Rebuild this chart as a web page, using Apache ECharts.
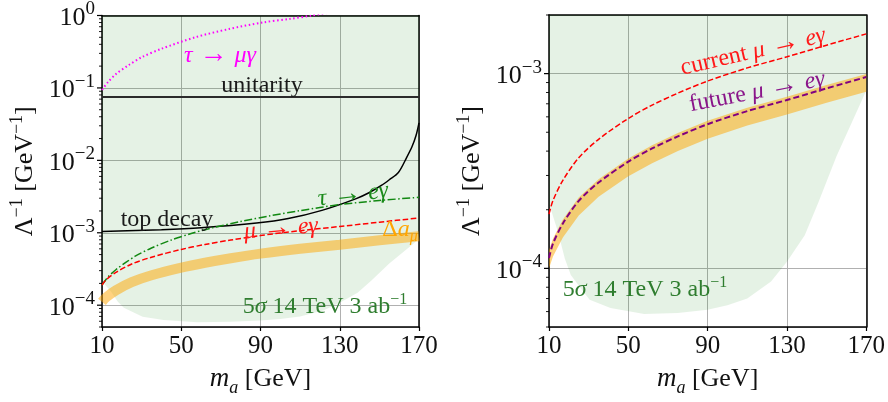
<!DOCTYPE html>
<html><head><meta charset="utf-8">
<script src="https://cdn.jsdelivr.net/npm/echarts@6/dist/echarts.min.js"></script>
<style>html,body{margin:0;padding:0;background:#fff}#c{width:888px;height:402px}</style>
</head><body><div id="c"></div>
<script>
// ---------------- data ----------------
const xTicks = [10, 50, 90, 130, 170];
const leftYRange = [5e-5, 1];
const rightYRange = [5e-5, 2e-3];

// 5 sigma 14 TeV 3 ab^-1 reach: lower boundary of shaded region
const reachM = [10, 11, 14.5, 18, 21, 26, 30.5, 41, 58, 75, 90, 100, 110, 122, 130, 139, 146, 155, 167, 170];
const reachV = [2.1e-4, 2.0e-4, 1.54e-4, 1.12e-4, 9.25e-5, 7.9e-5, 6.9e-5, 6.26e-5, 5.83e-5, 5.9e-5, 6.14e-5, 6.46e-5, 7.0e-5, 8.55e-5, 1.08e-4, 1.48e-4, 2.2e-4, 3.77e-4, 7.0e-4, 8.2e-4];

// mu -> e gamma (current / future) and Delta a_mu band
const muM = [10, 12, 17, 25, 35, 50, 62, 75, 90, 110, 130, 150, 170];
const muEgCurrent = [1.9e-4, 2.23e-4, 2.83e-4, 3.7e-4, 4.6e-4, 5.89e-4, 6.89e-4, 7.94e-4, 9.16e-4, 1.07e-3, 1.22e-3, 1.4e-3, 1.6e-3];
const muEgFuture = [1.13e-4, 1.34e-4, 1.7e-4, 2.22e-4, 2.76e-4, 3.53e-4, 4.13e-4, 4.76e-4, 5.5e-4, 6.42e-4, 7.32e-4, 8.4e-4, 9.6e-4];
const amuUpper = [1.24e-4, 1.42e-4, 1.78e-4, 2.31e-4, 2.87e-4, 3.67e-4, 4.29e-4, 4.95e-4, 5.72e-4, 6.68e-4, 7.61e-4, 8.74e-4, 9.95e-4];
const amuLower = [1.0e-4, 1.15e-4, 1.44e-4, 1.87e-4, 2.33e-4, 2.97e-4, 3.47e-4, 4.01e-4, 4.63e-4, 5.41e-4, 6.16e-4, 7.08e-4, 8.07e-4];

// top decay
const topM = [10, 40, 60, 88, 104, 121, 138, 145, 151, 155, 159.6, 163.8, 166.5, 168.5, 170];
const topV = [1.04e-3, 1.1e-3, 1.17e-3, 1.36e-3, 1.57e-3, 2.04e-3, 2.94e-3, 3.6e-3, 4.5e-3, 5.4e-3, 6.8e-3, 1.1e-2, 1.55e-2, 2.2e-2, 3.3e-2];

// tau -> e gamma
const tauEM = [10, 13, 17, 22, 27, 35, 45, 55, 65, 80, 95, 110, 130, 150, 170];
const tauEV = [1.9e-4, 2.45e-4, 3.09e-4, 3.89e-4, 4.79e-4, 6.17e-4, 7.94e-4, 9.77e-4, 1.16e-3, 1.43e-3, 1.72e-3, 2.02e-3, 2.45e-3, 2.79e-3, 3.09e-3];

// tau -> mu gamma
const tauMM = [10, 13, 17, 23.4, 30, 40, 57, 74, 91, 105, 116, 125];
const tauMV = [0.094, 0.12, 0.155, 0.206, 0.265, 0.347, 0.5, 0.65, 0.8, 0.9, 1.0, 1.1];

// unitarity
const unitM = [10, 170];
const unitV = [0.075, 0.075];

// ---------------- chart ----------------
const F = '"Liberation Serif", "DejaVu Serif", serif';
const TXT = '#111';
const zip = (a, b) => a.map((v, i) => [v, b[i]]);

const tickRich = {
  b: { fontSize: 26, fontFamily: F, color: TXT, verticalAlign: 'bottom' },
  s: { fontSize: 19, fontFamily: F, color: TXT, verticalAlign: 'bottom', padding: [0, 0, 12, 0] }
};
function logLabel(v) {
  const l = Math.log10(v), e = Math.round(l);
  if (Math.abs(l - e) > 1e-6) return '';
  return '{b|10}{s|' + (e < 0 ? '\u2212' : '') + Math.abs(e) + '}';
}
const nameRich = {
  b: { fontSize: 26, fontFamily: F, color: TXT, verticalAlign: 'bottom' },
  s: { fontSize: 18, fontFamily: F, color: TXT, verticalAlign: 'bottom', padding: [0, 0, 12, 0] },
  i: { fontSize: 27, fontFamily: F, fontStyle: 'italic', color: TXT, verticalAlign: 'bottom', padding: [0, 0, 5, 0] },
  bb: { fontSize: 26, fontFamily: F, color: TXT, verticalAlign: 'bottom', padding: [0, 0, 5, 0] },
  sub: { fontSize: 18, fontFamily: F, fontStyle: 'italic', color: TXT, verticalAlign: 'bottom' }
};

function xAxis(gi) {
  return {
    type: 'value', gridIndex: gi, min: 10, max: 170, interval: 40,
    axisLine: { show: true, lineStyle: { color: '#000', width: 1.5 } },
    axisTick: { show: true, length: 4, inside: false, lineStyle: { color: '#000', width: 1.2 } },
    axisLabel: { margin: 7, fontSize: 25, fontFamily: F, color: TXT },
    splitLine: { show: true, lineStyle: { color: '#b0b0b0', width: 1 } },
    name: '{i|m}{sub|a}{bb| [GeV]}', nameLocation: 'middle', nameGap: 38,
    nameTextStyle: { rich: nameRich }
  };
}
function yAxis(gi, r) {
  return {
    type: 'log', logBase: 10, gridIndex: gi, min: r[0], max: r[1],
    axisLine: { show: true, lineStyle: { color: '#000', width: 1.5 } },
    axisTick: { show: false },
    minorTick: { show: false },
    axisLabel: { margin: 7, formatter: logLabel, rich: tickRich },
    splitLine: { show: true, lineStyle: { color: '#b0b0b0', width: 1 } },
    name: '{b|\u039B}{s|\u22121}{b| [GeV}{s|\u22121}{b|]}', nameLocation: 'middle', nameRotate: 90, nameGap: 64,
    nameTextStyle: { rich: nameRich }
  };
}
// frame-only axes (top / right spines)
function frameX(gi) {
  return { type: 'value', gridIndex: gi, position: 'top', min: 10, max: 170,
    axisLine: { show: true, onZero: false, lineStyle: { color: '#000', width: 1.5 } },
    axisTick: { show: false }, axisLabel: { show: false }, splitLine: { show: false } };
}
function frameY(gi, r) {
  return { type: 'log', gridIndex: gi, position: 'right', min: r[0], max: r[1],
    axisLine: { show: true, onZero: false, lineStyle: { color: '#000', width: 1.5 } },
    axisTick: { show: false }, axisLabel: { show: false }, splitLine: { show: false } };
}

function tickSeries(xi, r) {
  const data = [];
  for (let e = -6; e <= 1; e++) for (let k = 1; k <= 9; k++) {
    const v = k * Math.pow(10, e);
    if (v >= r[0] * 0.999 && v <= r[1] * 1.001) data.push([xTicks[0], v, k === 1 ? 1 : 0]);
  }
  return {
    type: 'custom', xAxisIndex: xi, yAxisIndex: xi, clip: false, silent: true, z: 20, data,
    renderItem: (p, api) => {
      const pt = api.coord([api.value(0), api.value(1)]);
      const major = api.value(2) === 1;
      const len = major ? 5 : 3;
      return { type: 'line', shape: { x1: pt[0] - len, y1: pt[1], x2: pt[0], y2: pt[1] },
        style: { stroke: '#000', lineWidth: major ? 1.2 : 0.9 } };
    }
  };
}
function reachSeries(xi) {
  return {
    type: 'custom', xAxisIndex: xi, yAxisIndex: xi, clip: true, silent: true, z: 1,
    data: [[xTicks[0], 1e-3]],
    renderItem: (p, api) => {
      const pts = reachM.map((m, i) => api.coord([m, reachV[i]]));
      pts.push(api.coord([reachM[reachM.length - 1], 10]));
      pts.push(api.coord([reachM[0], 10]));
      return { type: 'polygon', shape: { points: pts }, style: { fill: 'rgba(0,128,0,0.1)' } };
    }
  };
}
function lineSeries(xi, m, v, color, width, dash, z) {
  return {
    type: 'line', xAxisIndex: xi, yAxisIndex: xi, data: zip(m, v), showSymbol: false, symbol: 'none',
    smooth: 0.3, clip: true, silent: true, z: z || 5,
    lineStyle: { color, width, type: dash || 'solid' }
  };
}

const series = [
  reachSeries(0),
  lineSeries(0, muM, muM.map((m, i) => Math.sqrt(amuUpper[i] * amuLower[i])), 'rgba(255,165,0,0.5)', 10, 'solid', 2),
  lineSeries(0, topM, topV, '#000', 1.5),
  lineSeries(0, unitM, unitV, '#2b2b2b', 2),
  lineSeries(0, tauMM, tauMV, '#ff00ff', 2, [1.5, 2.6]),
  lineSeries(0, tauEM, tauEV, '#118811', 1.5, [8, 2.5, 1.5, 2.5]),
  lineSeries(0, muM, muEgCurrent, '#ff0000', 1.5, [5.5, 2.5]),
  tickSeries(0, leftYRange),
  reachSeries(1),
  {
    type: 'custom', xAxisIndex: 1, yAxisIndex: 1, clip: true, silent: true, z: 2,
    data: [[xTicks[0], 1e-3]],
    renderItem: (p, api) => {
      const up = muM.map((m, i) => api.coord([m, amuUpper[i]]));
      const lo = muM.map((m, i) => api.coord([m, amuLower[i]])).reverse();
      return { type: 'polygon', shape: { points: up.concat(lo) }, style: { fill: 'rgba(255,165,0,0.5)' } };
    }
  },
  lineSeries(1, muM, muEgCurrent, '#ff0000', 1.5, [5.5, 2.5]),
  lineSeries(1, muM, muEgFuture, '#800080', 2, [6, 3]),
  tickSeries(1, rightYRange)
];

function txt(x, y, parts, color, rot, size) {
  const sz = size || 24;
  const rich = {
    r: { fontSize: sz, fontFamily: F, verticalAlign: 'bottom', padding: [0, 0, 3, 0] },
    a: { fontSize: sz + 4, fontFamily: F, verticalAlign: 'bottom', padding: [0, 0, 2, 0] },
    i: { fontSize: sz, fontFamily: F, fontStyle: 'italic', verticalAlign: 'bottom', padding: [0, 0, 3, 0] },
    sup: { fontSize: 16, fontFamily: F, verticalAlign: 'bottom', padding: [0, 0, 14, 0] },
    sub: { fontSize: 16, fontFamily: F, fontStyle: 'italic', verticalAlign: 'bottom' }
  };
  return {
    type: 'text', x, y, rotation: (rot || 0) * Math.PI / 180, z: 100, silent: true,
    style: { text: parts, fill: color, align: 'center', verticalAlign: 'middle', rich, fontSize: sz, fontFamily: F }
  };
}
const AR = '{a| \u2192 }';
const graphics = [
  txt(220, 56, '{i|\u03C4}' + AR + '{i|\u03BC\u03B3}', '#ff00ff'),
  txt(262, 87, '{r|unitarity}', '#1a1a1a'),
  txt(167, 221, '{r|top decay}', '#1a1a1a'),
  txt(353, 195, '{i|\u03C4}' + AR + '{i|e\u03B3}', '#1a8a1a', 7),
  txt(281, 229, '{i|\u03BC}' + AR + '{i|e\u03B3}', '#ff1a1a', 5),
  txt(400, 231, '{r|\u0394}{i|a}{sub|\u03BC}', '#ffa500'),
  txt(325, 307, '{r|5}{i|\u03C3}{r| 14 TeV 3 ab}{sup|\u22121}', '#2f7d2f'),
  txt(753, 52, '{r|current }{i|\u03BC}' + AR + '{i|e\u03B3}', '#ff1a1a', 13),
  txt(757, 92, '{r|future }{i|\u03BC}' + AR + '{i|e\u03B3}', '#8a158a', 11),
  txt(645, 290, '{r|5}{i|\u03C3}{r| 14 TeV 3 ab}{sup|\u22121}', '#2f7d2f')
];

const chart = echarts.init(document.getElementById('c'), null, { renderer: 'canvas' });
chart.setOption({
  animation: false,
  backgroundColor: '#fff',
  grid: [
    { left: 102, top: 15, width: 317, height: 314, show: false, containLabel: false },
    { left: 549, top: 15, width: 318, height: 314, show: false, containLabel: false }
  ],
  xAxis: [xAxis(0), xAxis(1), frameX(0), frameX(1)],
  yAxis: [yAxis(0, leftYRange), yAxis(1, rightYRange), frameY(0, leftYRange), frameY(1, rightYRange)],
  series,
  graphic: graphics
});
</script></body></html>
